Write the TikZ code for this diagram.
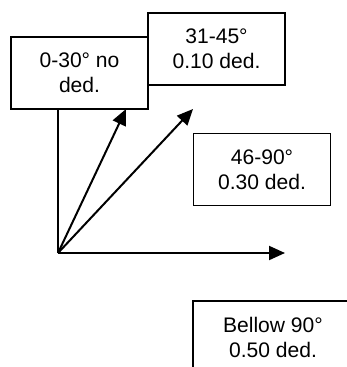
\documentclass[tikz,border=0pt]{standalone}
\usepackage{fontspec}
\setmainfont{Liberation Sans}
\usetikzlibrary{arrows.meta}

\tikzset{
    dedbox/.style = {draw, line width = 1.1pt, minimum width = 102.75pt, minimum height = 54pt,
        inner sep = 0pt, align = center, font = \fontsize{15.8}{18.75}\selectfont},
    ray/.style = {line width = 1.5pt, -{Triangle[length = 12pt, width = 10.5pt]}}
}

\begin{document}
\begin{tikzpicture}[x = 0.75pt, y = -0.75pt]
    \useasboundingbox (0, 0) rectangle (346, 367);

    \node[dedbox] (noded) at (79.5, 73) {0-30° no\\ded.};
    \node[dedbox] (dedten) at (216.5, 49) {31-45°\\0.10 ded.};
    \node[dedbox] (dedthirty) at (262, 169.5) {46-90°\\0.30 ded.};
    \node[dedbox, minimum width = 120pt] (dedfifty) at (273, 337) {Bellow 90°\\0.50 ded.};

    \coordinate (origin) at (58, 253);
    \coordinate (tipsteep) at (126, 109);
    \coordinate (tipmid) at (193, 109);
    \coordinate (tipflat) at (285, 253);

    \draw[line width = 1.5pt] (origin) -- (origin |- noded.south);
    \draw[ray] (origin) -- (tipsteep);
    \draw[ray] (origin) -- (tipmid);
    \draw[ray] (origin) -- (tipflat);
\end{tikzpicture}
\end{document}
